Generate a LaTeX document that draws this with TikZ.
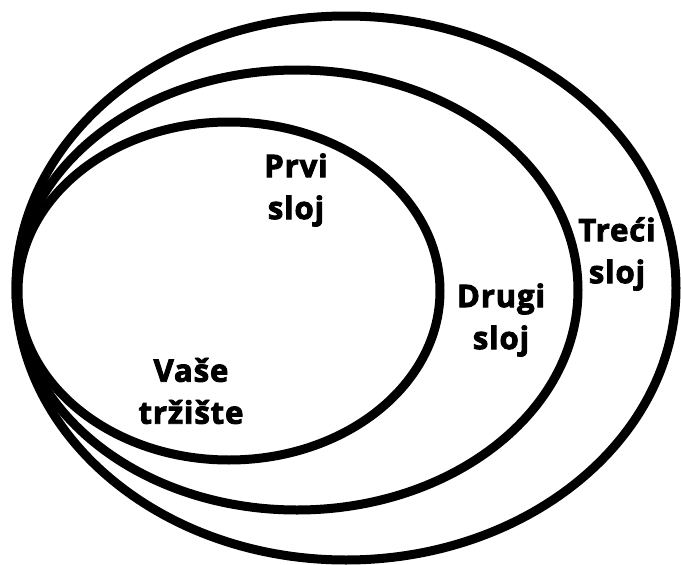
\documentclass[tikz,border=0pt]{standalone}
\usepackage{fontspec}
\setmainfont{Open Sans}
\newfontfamily\lblfont{Open Sans Bold}[FakeBold=3,LetterSpace=3]
\begin{document}
\begin{tikzpicture}[x=1pt,y=-1pt,
  ring/.style={draw=black,line width=9pt},
  lbl/.style={font=\fontsize{31}{42}\selectfont\lblfont,align=center,inner sep=0pt}]
\useasboundingbox (0,0) rectangle (681,565);
\fill[white] (0,0) rectangle (681,565);
\draw[ring] (346,288) ellipse [x radius=330,y radius=272];
\draw[ring] (297,290) ellipse [x radius=281,y radius=220];
\draw[ring] (229,291) ellipse [x radius=211,y radius=169];
\node[lbl] (prvi) at (296,190) {Prvi\\sloj};
\node[lbl] (drugi) at (501,320) {Drugi\\sloj};
\node[lbl] (treci) at (617,254) {Treći\\sloj};
\node[lbl] (vase) at (191,391) {Vaše\\tržište};
\end{tikzpicture}
\end{document}
